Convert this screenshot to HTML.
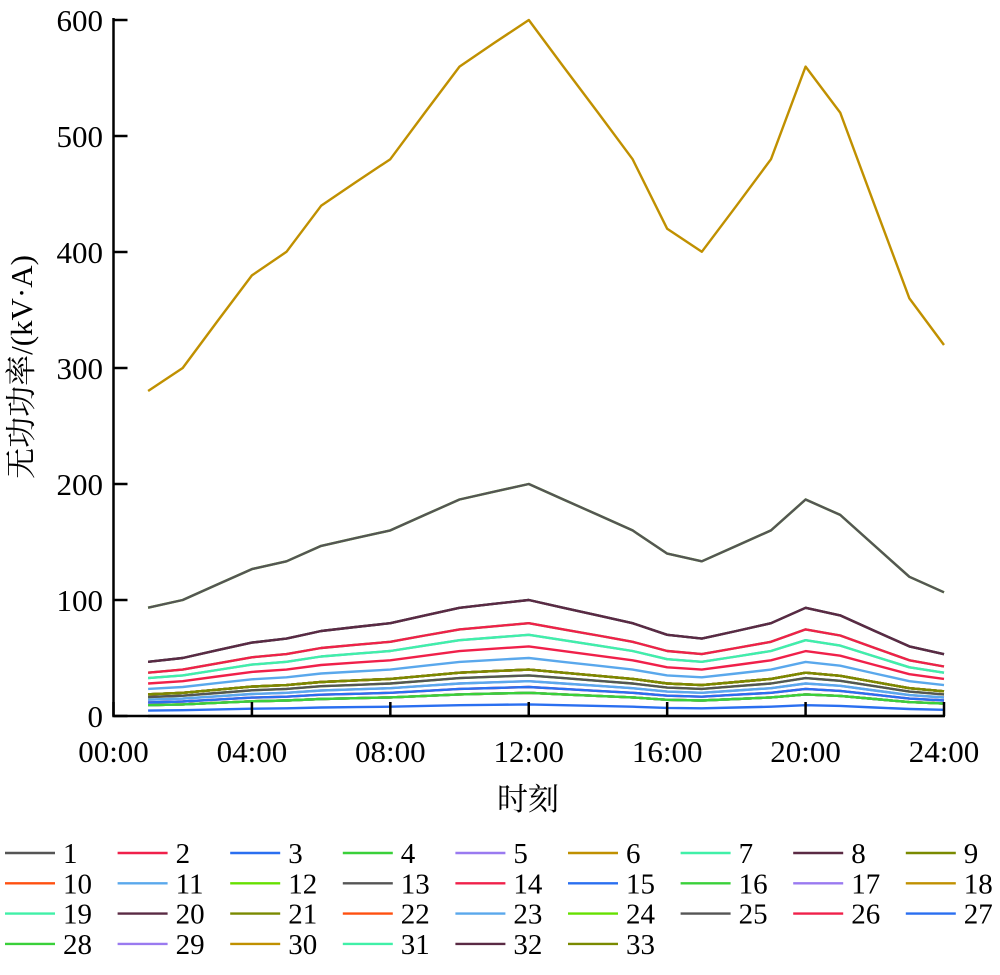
<!DOCTYPE html>
<html><head><meta charset="utf-8">
<style>
html,body{margin:0;padding:0;background:#fff;}
svg{display:block;font-family:"Liberation Serif","Noto Serif CJK SC","Noto Sans CJK SC",serif;}
</style></head>
<body>
<svg id="chart" width="1000" height="975" viewBox="0 0 1000 975" xmlns="http://www.w3.org/2000/svg">
<g id="plot"></g>
<g id="axes"></g>
<g id="legend"></g>
<text transform="translate(32,367) rotate(-90)" text-anchor="middle" font-size="31">无功功率/(kV·A)</text>
<text x="528" y="810" text-anchor="middle" font-size="31">时刻</text>
</svg>
<script>
const hours = [1,2,3,4,5,6,7,8,9,10,11,12,13,14,15,16,17,18,19,20,21,22,23,24];
const loadFactor = [0.467,0.5,0.567,0.633,0.667,0.733,0.767,0.8,0.867,0.933,0.967,1,0.933,0.867,0.8,0.7,0.667,0.733,0.8,0.933,0.867,0.733,0.6,0.533];
const peakQ = [0,60,40,80,30,20,100,100,20,20,30,35,35,80,10,20,20,40,40,40,40,40,50,200,200,25,25,20,70,600,70,100,40];
const seriesNames = ["1","2","3","4","5","6","7","8","9","10","11","12","13","14","15","16","17","18","19","20","21","22","23","24","25","26","27","28","29","30","31","32","33"];
const palette = ["#555555","#f0204a","#2a6ff0","#3ad03a","#9a7af0","#c09000","#40f0a8","#5a2a44","#7a8a00","#ff5010","#5aa8ec","#66e000"];
const yTicks = [0,100,200,300,400,500,600];
const xTickHours = [0,4,8,12,16,20,24];
const xTickLabels = ["00:00","04:00","08:00","12:00","16:00","20:00","24:00"];

const NS="http://www.w3.org/2000/svg";
const x0=113.5, x1=944, y0=716, y1=20;
const xs=h=>x0+(x1-x0)*h/24;
const ys=v=>y0-(y0-y1)*v/600;
function mk(tag,attrs,parent){const e=document.createElementNS(NS,tag);for(const k in attrs)e.setAttribute(k,attrs[k]);parent.appendChild(e);return e;}

const plot=document.getElementById('plot');
peakQ.forEach((pk,i)=>{
  const vals=loadFactor.map(f=>pk*f);
  const d=vals.map((v,j)=>(j?'L':'M')+xs(hours[j]).toFixed(1)+','+ys(v).toFixed(1)).join(' ');
  const p=mk('path',{d:d,fill:'none',stroke:palette[i%12],'stroke-width':2.4,'stroke-linejoin':'round'},plot);
  
  
});

const axes=document.getElementById('axes');
const ax=mk('path',{d:`M${x0},${y1-2} L${x0},${y0} L${x1+1},${y0}`,fill:'none',stroke:'#000','stroke-width':2.5},axes);


yTicks.forEach(t=>{
  const y=ys(t);
  const l=mk('line',{x1:x0,x2:x0+14,y1:y,y2:y,stroke:'#000','stroke-width':2.5},axes);
  
  
  const tx=mk('text',{x:103,y:y+11,'text-anchor':'end','font-size':31},axes);
  tx.textContent=t;
  
  
});
xTickHours.forEach((h,i)=>{
  const x=xs(h);
  const l=mk('line',{x1:x,x2:x,y1:y0,y2:y0-14,stroke:'#000','stroke-width':2.5},axes);
  
  
  const tx=mk('text',{x:x,y:762,'text-anchor':'middle','font-size':31},axes);
  tx.textContent=xTickLabels[i];
  
  
});

const legend=document.getElementById('legend');
seriesNames.forEach((n,i)=>{
  const col=i%9,row=Math.floor(i/9);
  const lx=5+col*112.6, ly=853+row*30.3;
  const g=mk('g',{},legend);
  
  
  mk('line',{x1:lx,x2:lx+50,y1:ly,y2:ly,stroke:palette[i%12],'stroke-width':2.4},g);
  const t=mk('text',{x:lx+58,y:ly+10,'font-size':29},g);
  t.textContent=n;
});
</script>
</body></html>
